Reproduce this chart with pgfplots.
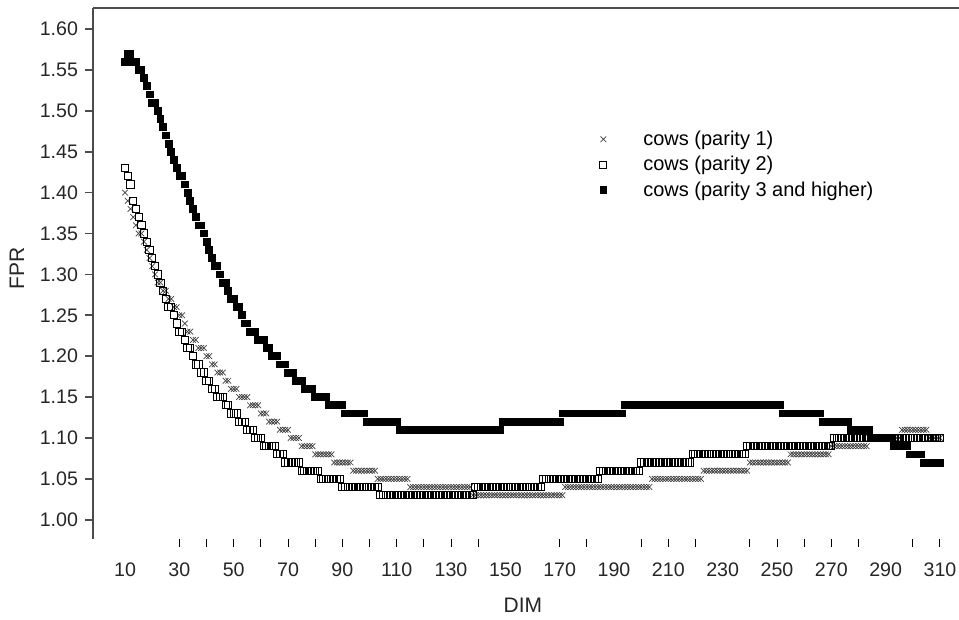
\documentclass[border=0pt]{standalone}
\usepackage{fontspec}
\setmainfont{Liberation Sans}
\usepackage{pgfplots}
\pgfplotsset{compat=1.18}
\usetikzlibrary{calc}

\begin{document}
\begin{tikzpicture}
\begin{axis}[
    name=ax,
    scale only axis,
    width=433pt, height=265.5pt,
    xmin=-1.8, xmax=317,
    ymin=0.9765, ymax=1.6257,
    clip=false,
    axis lines=left,
    axis line style={-, black!70, line width=0.8pt},
    x axis line style={draw=none},
    tick align=outside,
    major tick length=4pt,
    minor tick length=4pt,
    ytick={1.00,1.05,1.10,1.15,1.20,1.25,1.30,1.35,1.40,1.45,1.50,1.55,1.60},
    y tick style={black!70, line width=0.8pt},
    yticklabel style={/pgf/number format/.cd, fixed, fixed zerofill, precision=2},
    xtick={10,30,...,310},
    major x tick style={draw=none},
    minor xtick={30,40,50,60,70,80,90,100,110,120,130,140,170,180,200,210,220,240,250,260,270,280,300,310},
    minor x tick style={black, line width=0.5pt},
    /pgf/number format/assume math mode=true,
    tick label style={font=\fontsize{9.8}{11}\selectfont, text=black!85},
    xticklabel style={yshift=-4.5pt},
    label style={font=\fontsize{10.5}{12}\selectfont, text=black!85},
    xlabel={DIM},
    ylabel={FPR},
    xlabel style={at={(axis description cs:0.4965,-0.124)}, anchor=center},
    ylabel style={at={(axis description cs:-0.088,0.51)}, anchor=center, rotate=0},
    legend style={draw=none, fill=none, at={(axis description cs:0.575,0.785)}, anchor=north west,
        font=\fontsize{10}{11.25}\selectfont, row sep=0pt},
    legend cell align=left,
    legend image code/.code={\draw[#1] plot coordinates {(0pt,0pt)}; \path[draw=none] (-3pt,0pt) -- (18pt,0pt);},
]
\draw[black!70, line width=0.8pt] (rel axis cs:0,1) -- (rel axis cs:1,1);

% parity 1
\addplot[only marks, mark=x, mark size=2pt, black!75, line width=0.35pt] coordinates {
(10,1.40)(11,1.39)(12,1.38)(13,1.37)(14,1.36)(15,1.35)(16,1.35)(17,1.34)(18,1.33)(19,1.32)
(20,1.31)(21,1.30)(22,1.29)(23,1.29)(24,1.28)(25,1.28)(26,1.27)(27,1.27)(28,1.26)(29,1.26)
(30,1.25)(31,1.25)(32,1.24)(33,1.23)(34,1.23)(35,1.22)(36,1.22)(37,1.21)(38,1.21)(39,1.21)
(40,1.20)(41,1.20)(42,1.19)(43,1.19)(44,1.18)(45,1.18)(46,1.18)(47,1.17)(48,1.17)(49,1.16)
(50,1.16)(51,1.16)(52,1.15)(53,1.15)(54,1.15)(55,1.15)(56,1.14)(57,1.14)(58,1.14)(59,1.14)
(60,1.13)(61,1.13)(62,1.13)(63,1.12)(64,1.12)(65,1.12)(66,1.12)(67,1.11)(68,1.11)(69,1.11)
(70,1.11)(71,1.10)(72,1.10)(73,1.10)(74,1.10)(75,1.09)(76,1.09)(77,1.09)(78,1.09)(79,1.09)
(80,1.08)(81,1.08)(82,1.08)(83,1.08)(84,1.08)(85,1.08)(86,1.08)(87,1.07)(88,1.07)(89,1.07)
(90,1.07)(91,1.07)(92,1.07)(93,1.07)(94,1.06)(95,1.06)(96,1.06)(97,1.06)(98,1.06)(99,1.06)
(100,1.06)(101,1.06)(102,1.06)(103,1.05)(104,1.05)(105,1.05)(106,1.05)(107,1.05)(108,1.05)(109,1.05)
(110,1.05)(111,1.05)(112,1.05)(113,1.05)(114,1.05)(115,1.04)(116,1.04)(117,1.04)(118,1.04)(119,1.04)
(120,1.04)(121,1.04)(122,1.04)(123,1.04)(124,1.04)(125,1.04)(126,1.04)(127,1.04)(128,1.04)(129,1.04)
(130,1.04)(131,1.04)(132,1.04)(133,1.04)(134,1.04)(135,1.04)(136,1.04)(137,1.04)(138,1.03)(139,1.03)
(140,1.03)(141,1.03)(142,1.03)(143,1.03)(144,1.03)(145,1.03)(146,1.03)(147,1.03)(148,1.03)(149,1.03)
(150,1.03)(151,1.03)(152,1.03)(153,1.03)(154,1.03)(155,1.03)(156,1.03)(157,1.03)(158,1.03)(159,1.03)
(160,1.03)(161,1.03)(162,1.03)(163,1.03)(164,1.03)(165,1.03)(166,1.03)(167,1.03)(168,1.03)(169,1.03)
(170,1.03)(171,1.03)(172,1.04)(173,1.04)(174,1.04)(175,1.04)(176,1.04)(177,1.04)(178,1.04)(179,1.04)
(180,1.04)(181,1.04)(182,1.04)(183,1.04)(184,1.04)(185,1.04)(186,1.04)(187,1.04)(188,1.04)(189,1.04)
(190,1.04)(191,1.04)(192,1.04)(193,1.04)(194,1.04)(195,1.04)(196,1.04)(197,1.04)(198,1.04)(199,1.04)
(200,1.04)(201,1.04)(202,1.04)(203,1.04)(204,1.05)(205,1.05)(206,1.05)(207,1.05)(208,1.05)(209,1.05)
(210,1.05)(211,1.05)(212,1.05)(213,1.05)(214,1.05)(215,1.05)(216,1.05)(217,1.05)(218,1.05)(219,1.05)
(220,1.05)(221,1.05)(222,1.05)(223,1.06)(224,1.06)(225,1.06)(226,1.06)(227,1.06)(228,1.06)(229,1.06)
(230,1.06)(231,1.06)(232,1.06)(233,1.06)(234,1.06)(235,1.06)(236,1.06)(237,1.06)(238,1.06)(239,1.06)
(240,1.07)(241,1.07)(242,1.07)(243,1.07)(244,1.07)(245,1.07)(246,1.07)(247,1.07)(248,1.07)(249,1.07)
(250,1.07)(251,1.07)(252,1.07)(253,1.07)(254,1.07)(255,1.08)(256,1.08)(257,1.08)(258,1.08)(259,1.08)
(260,1.08)(261,1.08)(262,1.08)(263,1.08)(264,1.08)(265,1.08)(266,1.08)(267,1.08)(268,1.08)(269,1.08)
(270,1.09)(271,1.09)(272,1.09)(273,1.09)(274,1.09)(275,1.09)(276,1.09)(277,1.09)(278,1.09)(279,1.09)
(280,1.09)(281,1.09)(282,1.09)(283,1.09)(284,1.10)(285,1.10)(286,1.10)(287,1.10)(288,1.10)(289,1.10)
(290,1.10)(291,1.10)(292,1.10)(293,1.10)(294,1.10)(295,1.10)(296,1.11)(297,1.11)(298,1.11)(299,1.11)
(300,1.11)(301,1.11)(302,1.11)(303,1.11)(304,1.11)(305,1.11)(306,1.10)(307,1.10)(308,1.10)(309,1.10)
(310,1.10)
};
\addlegendentry{cows (parity 1)}

% parity 2
\addplot[only marks, mark=square, mark size=1.8pt, black, line width=0.45pt] coordinates {
(10,1.43)(11,1.42)(12,1.41)(13,1.39)(14,1.38)(15,1.37)(16,1.36)(17,1.35)(18,1.34)(19,1.33)
(20,1.32)(21,1.31)(22,1.30)(23,1.29)(24,1.28)(25,1.27)(26,1.26)(27,1.26)(28,1.25)(29,1.24)
(30,1.23)(31,1.23)(32,1.22)(33,1.21)(34,1.21)(35,1.20)(36,1.19)(37,1.19)(38,1.18)(39,1.18)
(40,1.17)(41,1.17)(42,1.16)(43,1.16)(44,1.15)(45,1.15)(46,1.15)(47,1.14)(48,1.14)(49,1.13)
(50,1.13)(51,1.13)(52,1.12)(53,1.12)(54,1.12)(55,1.11)(56,1.11)(57,1.11)(58,1.10)(59,1.10)
(60,1.10)(61,1.09)(62,1.09)(63,1.09)(64,1.09)(65,1.09)(66,1.08)(67,1.08)(68,1.08)(69,1.07)
(70,1.07)(71,1.07)(72,1.07)(73,1.07)(74,1.07)(75,1.06)(76,1.06)(77,1.06)(78,1.06)(79,1.06)
(80,1.06)(81,1.06)(82,1.05)(83,1.05)(84,1.05)(85,1.05)(86,1.05)(87,1.05)(88,1.05)(89,1.05)
(90,1.04)(91,1.04)(92,1.04)(93,1.04)(94,1.04)(95,1.04)(96,1.04)(97,1.04)(98,1.04)(99,1.04)
(100,1.04)(101,1.04)(102,1.04)(103,1.04)(104,1.03)(105,1.03)(106,1.03)(107,1.03)(108,1.03)(109,1.03)
(110,1.03)(111,1.03)(112,1.03)(113,1.03)(114,1.03)(115,1.03)(116,1.03)(117,1.03)(118,1.03)(119,1.03)
(120,1.03)(121,1.03)(122,1.03)(123,1.03)(124,1.03)(125,1.03)(126,1.03)(127,1.03)(128,1.03)(129,1.03)
(130,1.03)(131,1.03)(132,1.03)(133,1.03)(134,1.03)(135,1.03)(136,1.03)(137,1.03)(138,1.03)(139,1.04)
(140,1.04)(141,1.04)(142,1.04)(143,1.04)(144,1.04)(145,1.04)(146,1.04)(147,1.04)(148,1.04)(149,1.04)
(150,1.04)(151,1.04)(152,1.04)(153,1.04)(154,1.04)(155,1.04)(156,1.04)(157,1.04)(158,1.04)(159,1.04)
(160,1.04)(161,1.04)(162,1.04)(163,1.04)(164,1.05)(165,1.05)(166,1.05)(167,1.05)(168,1.05)(169,1.05)
(170,1.05)(171,1.05)(172,1.05)(173,1.05)(174,1.05)(175,1.05)(176,1.05)(177,1.05)(178,1.05)(179,1.05)
(180,1.05)(181,1.05)(182,1.05)(183,1.05)(184,1.05)(185,1.06)(186,1.06)(187,1.06)(188,1.06)(189,1.06)
(190,1.06)(191,1.06)(192,1.06)(193,1.06)(194,1.06)(195,1.06)(196,1.06)(197,1.06)(198,1.06)(199,1.06)
(200,1.07)(201,1.07)(202,1.07)(203,1.07)(204,1.07)(205,1.07)(206,1.07)(207,1.07)(208,1.07)(209,1.07)
(210,1.07)(211,1.07)(212,1.07)(213,1.07)(214,1.07)(215,1.07)(216,1.07)(217,1.07)(218,1.07)(219,1.08)
(220,1.08)(221,1.08)(222,1.08)(223,1.08)(224,1.08)(225,1.08)(226,1.08)(227,1.08)(228,1.08)(229,1.08)
(230,1.08)(231,1.08)(232,1.08)(233,1.08)(234,1.08)(235,1.08)(236,1.08)(237,1.08)(238,1.08)(239,1.09)
(240,1.09)(241,1.09)(242,1.09)(243,1.09)(244,1.09)(245,1.09)(246,1.09)(247,1.09)(248,1.09)(249,1.09)
(250,1.09)(251,1.09)(252,1.09)(253,1.09)(254,1.09)(255,1.09)(256,1.09)(257,1.09)(258,1.09)(259,1.09)
(260,1.09)(261,1.09)(262,1.09)(263,1.09)(264,1.09)(265,1.09)(266,1.09)(267,1.09)(268,1.09)(269,1.09)
(270,1.09)(271,1.10)(272,1.10)(273,1.10)(274,1.10)(275,1.10)(276,1.10)(277,1.10)(278,1.10)(279,1.10)
(280,1.10)(281,1.10)(282,1.10)(283,1.10)(284,1.10)(285,1.10)(286,1.10)(287,1.10)(288,1.10)(289,1.10)
(290,1.10)(291,1.10)(292,1.10)(293,1.10)(294,1.10)(295,1.10)(296,1.10)(297,1.10)(298,1.10)(299,1.10)
(300,1.10)(301,1.10)(302,1.10)(303,1.10)(304,1.10)(305,1.10)(306,1.10)(307,1.10)(308,1.10)(309,1.10)
(310,1.10)
};
\addlegendentry{cows (parity 2)}

% parity 3 and higher
\addplot[only marks, mark=square*, mark size=1.7pt, black] coordinates {
(10,1.56)(11,1.57)(12,1.57)(13,1.56)(14,1.56)(15,1.55)(16,1.55)(17,1.54)(18,1.53)(19,1.52)
(20,1.51)(21,1.51)(22,1.50)(23,1.49)(24,1.48)(25,1.47)(26,1.46)(27,1.45)(28,1.44)(29,1.43)
(30,1.42)(31,1.42)(32,1.41)(33,1.40)(34,1.39)(35,1.38)(36,1.37)(37,1.36)(38,1.36)(39,1.35)
(40,1.34)(41,1.33)(42,1.32)(43,1.31)(44,1.31)(45,1.30)(46,1.29)(47,1.29)(48,1.28)(49,1.27)
(50,1.27)(51,1.26)(52,1.26)(53,1.25)(54,1.24)(55,1.24)(56,1.23)(57,1.23)(58,1.23)(59,1.22)
(60,1.22)(61,1.22)(62,1.21)(63,1.21)(64,1.20)(65,1.20)(66,1.20)(67,1.19)(68,1.19)(69,1.19)
(70,1.18)(71,1.18)(72,1.18)(73,1.17)(74,1.17)(75,1.17)(76,1.16)(77,1.16)(78,1.16)(79,1.16)
(80,1.15)(81,1.15)(82,1.15)(83,1.15)(84,1.15)(85,1.14)(86,1.14)(87,1.14)(88,1.14)(89,1.14)
(90,1.14)(91,1.13)(92,1.13)(93,1.13)(94,1.13)(95,1.13)(96,1.13)(97,1.13)(98,1.13)(99,1.12)
(100,1.12)(101,1.12)(102,1.12)(103,1.12)(104,1.12)(105,1.12)(106,1.12)(107,1.12)(108,1.12)(109,1.12)
(110,1.12)(111,1.11)(112,1.11)(113,1.11)(114,1.11)(115,1.11)(116,1.11)(117,1.11)(118,1.11)(119,1.11)
(120,1.11)(121,1.11)(122,1.11)(123,1.11)(124,1.11)(125,1.11)(126,1.11)(127,1.11)(128,1.11)(129,1.11)
(130,1.11)(131,1.11)(132,1.11)(133,1.11)(134,1.11)(135,1.11)(136,1.11)(137,1.11)(138,1.11)(139,1.11)
(140,1.11)(141,1.11)(142,1.11)(143,1.11)(144,1.11)(145,1.11)(146,1.11)(147,1.11)(148,1.11)(149,1.12)
(150,1.12)(151,1.12)(152,1.12)(153,1.12)(154,1.12)(155,1.12)(156,1.12)(157,1.12)(158,1.12)(159,1.12)
(160,1.12)(161,1.12)(162,1.12)(163,1.12)(164,1.12)(165,1.12)(166,1.12)(167,1.12)(168,1.12)(169,1.12)
(170,1.12)(171,1.13)(172,1.13)(173,1.13)(174,1.13)(175,1.13)(176,1.13)(177,1.13)(178,1.13)(179,1.13)
(180,1.13)(181,1.13)(182,1.13)(183,1.13)(184,1.13)(185,1.13)(186,1.13)(187,1.13)(188,1.13)(189,1.13)
(190,1.13)(191,1.13)(192,1.13)(193,1.13)(194,1.14)(195,1.14)(196,1.14)(197,1.14)(198,1.14)(199,1.14)
(200,1.14)(201,1.14)(202,1.14)(203,1.14)(204,1.14)(205,1.14)(206,1.14)(207,1.14)(208,1.14)(209,1.14)
(210,1.14)(211,1.14)(212,1.14)(213,1.14)(214,1.14)(215,1.14)(216,1.14)(217,1.14)(218,1.14)(219,1.14)
(220,1.14)(221,1.14)(222,1.14)(223,1.14)(224,1.14)(225,1.14)(226,1.14)(227,1.14)(228,1.14)(229,1.14)
(230,1.14)(231,1.14)(232,1.14)(233,1.14)(234,1.14)(235,1.14)(236,1.14)(237,1.14)(238,1.14)(239,1.14)
(240,1.14)(241,1.14)(242,1.14)(243,1.14)(244,1.14)(245,1.14)(246,1.14)(247,1.14)(248,1.14)(249,1.14)
(250,1.14)(251,1.14)(252,1.13)(253,1.13)(254,1.13)(255,1.13)(256,1.13)(257,1.13)(258,1.13)(259,1.13)
(260,1.13)(261,1.13)(262,1.13)(263,1.13)(264,1.13)(265,1.13)(266,1.13)(267,1.12)(268,1.12)(269,1.12)
(270,1.12)(271,1.12)(272,1.12)(273,1.12)(274,1.12)(275,1.12)(276,1.12)(277,1.11)(278,1.11)(279,1.11)
(280,1.11)(281,1.11)(282,1.11)(283,1.11)(284,1.11)(285,1.10)(286,1.10)(287,1.10)(288,1.10)(289,1.10)
(290,1.10)(291,1.10)(292,1.10)(293,1.09)(294,1.09)(295,1.09)(296,1.09)(297,1.09)(298,1.09)(299,1.08)
(300,1.08)(301,1.08)(302,1.08)(303,1.08)(304,1.07)(305,1.07)(306,1.07)(307,1.07)(308,1.07)(309,1.07)
(310,1.07)
};
\addlegendentry{cows (parity 3 and higher)}
\end{axis}
\pgfresetboundingbox
\path[use as bounding box] ($(ax.south west)+(-46.5pt,-40.5pt)$) rectangle ($(ax.north east)+(0pt,4pt)$);
\end{tikzpicture}
\end{document}
